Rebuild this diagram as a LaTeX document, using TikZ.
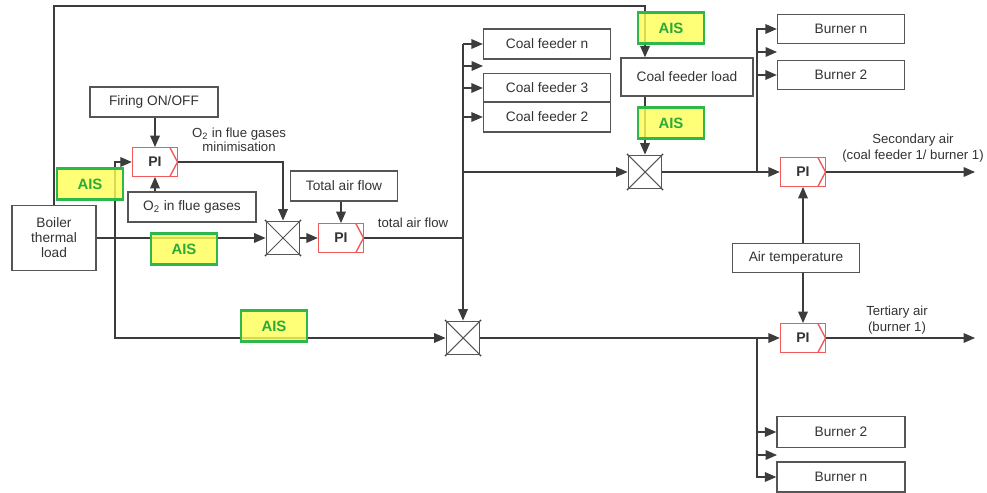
\documentclass[tikz,border=0pt]{standalone}
\usepackage{fontspec}
\setmainfont{Liberation Sans}
\usetikzlibrary{arrows.meta}
\definecolor{linegray}{HTML}{3C3C3C}
\definecolor{boxgray}{HTML}{555555}
\definecolor{txtgray}{HTML}{333333}
\definecolor{pired}{HTML}{F05A5A}
\definecolor{aisfill}{HTML}{FFFF55}
\definecolor{aisdraw}{HTML}{2DB84B}
\definecolor{aistext}{HTML}{2AAA3A}
\begin{document}
\begin{tikzpicture}[x=0.02cm,y=-0.02cm,>={Triangle[length=6.5pt,width=5.5pt]},
  line width=0.7pt,draw=linegray,font=\fontsize{7.8}{9.5}\selectfont,
  box/.style={draw=boxgray,line width=0.8pt,inner sep=0pt,text=txtgray},
  pibox/.style={draw=pired,line width=0.8pt,inner sep=0pt,text=txtgray,
    minimum width=0.9cm,minimum height=0.57cm,font=\fontsize{8}{9.5}\selectfont\bfseries,
    path picture={\draw[pired,line width=0.8pt]
      ([xshift=-0.15cm]path picture bounding box.north east) --
      (path picture bounding box.east) --
      ([xshift=-0.15cm]path picture bounding box.south east);}},
  mult/.style={draw=boxgray,line width=0.8pt,minimum size=0.67cm,inner sep=0pt,
    path picture={\draw[boxgray,line width=0.6pt]
      (path picture bounding box.north west) -- (path picture bounding box.south east)
      (path picture bounding box.north east) -- (path picture bounding box.south west);}},
  ais/.style={draw=aisdraw,fill=aisfill,fill opacity=0.8,text opacity=1,line width=1.2pt,
    text=aistext,minimum width=1.32cm,minimum height=0.62cm,inner sep=0pt,
    font=\fontsize{8.5}{10}\selectfont\bfseries},
  lbl/.style={text=txtgray,align=center,inner sep=0pt,font=\fontsize{7.5}{9.5}\selectfont}]
  \useasboundingbox (0,0) rectangle (987,493);

  % left part
  \node[box,minimum width=1.68cm,minimum height=1.3cm,align=center,
    font=\fontsize{7.8}{8.5}\selectfont] (boiler) at (54,238) {Boiler\\thermal\\load};
  \node[box,minimum width=2.56cm,minimum height=0.6cm] (firing) at (154,102) {Firing ON/OFF};
  \node[pibox] (pi1) at (155,162) {PI};
  \node[box,minimum width=2.56cm,minimum height=0.6cm] (o2) at (192,207) {O\textsubscript{2} in flue gases};
  \node[mult] (mult1) at (283,238) {};
  \node[box,minimum width=2.14cm,minimum height=0.6cm] (totalair) at (344,186) {Total air flow};
  \node[pibox] (pi2) at (341,238) {PI};
  \node[mult] (mult3) at (463,338) {};

  % coal feeders
  \node[box,minimum width=2.54cm,minimum height=0.6cm] (cfn) at (547,44) {Coal feeder n};
  \node[box,minimum width=2.54cm,minimum height=0.59cm] (cf3) at (547,88) {Coal feeder 3};
  \node[box,minimum width=2.54cm,minimum height=0.6cm] (cf2) at (547,117) {Coal feeder 2};
  \node[box,minimum width=2.64cm,minimum height=0.76cm] (cfload) at (687,77) {Coal feeder load};
  \node[mult] (mult2) at (645,172) {};

  % right part
  \node[box,minimum width=2.54cm,minimum height=0.58cm] (burntop) at (841,29) {Burner n};
  \node[box,minimum width=2.54cm,minimum height=0.58cm] (bur2top) at (841,75) {Burner 2};
  \node[pibox] (pi3) at (803,172) {PI};
  \node[box,minimum width=2.54cm,minimum height=0.58cm] (airtemp) at (796,258) {Air temperature};
  \node[pibox] (pi4) at (803,338) {PI};
  \node[box,minimum width=2.56cm,minimum height=0.62cm] (bur2bot) at (841,432) {Burner 2};
  \node[box,minimum width=2.56cm,minimum height=0.6cm] (burnbot) at (841,477) {Burner n};

  \coordinate (split) at (115,238);
  \coordinate (topright) at (645,6);
  \coordinate (bustop) at (463,44);
  \coordinate (cfspare) at (483,66);
  \coordinate (secsplit) at (757,172);
  \coordinate (bnspare) at (777,52);
  \coordinate (tersplit) at (757,338);
  \coordinate (btspare) at (777,455);
  \coordinate (secout) at (975,172);
  \coordinate (terout) at (975,338);

  % signal lines
  \draw[->] (boiler.east) -- (mult1.west);
  \draw[->] (split) |- (pi1.west);
  \draw[->] (split) |- (mult3.west);
  \draw[->] (boiler.north) |- (topright) -- (cfload.north -| topright);
  \draw[->] (firing.south -| pi1) -- (pi1.north);
  \draw[->] (o2.north -| pi1) -- (pi1.south);
  \draw[->] (pi1.east) -| (mult1.north);
  \draw[->] (mult1.east) -- (pi2.west);
  \draw[->] (totalair.south -| pi2) -- (pi2.north);
  \draw (pi2.east) -- (pi2.east -| bustop);
  \draw[->] (bustop) -- (mult3.north);
  \draw[->] (bustop) -- (cfn.west);
  \draw[->] (cfspare -| bustop) -- (cfspare);
  \draw[->] (cf3.west -| bustop) -- (cf3.west);
  \draw[->] (cf2.west -| bustop) -- (cf2.west);
  \draw[->] (cfload.south -| mult2) -- (mult2.north);
  \draw[->] (mult2.west -| bustop) -- (mult2.west);
  \draw[->] (mult2.east) -- (pi3.west);
  \draw[->] (secsplit) |- (burntop.west);
  \draw[->] (bnspare -| secsplit) -- (bnspare);
  \draw[->] (bur2top.west -| secsplit) -- (bur2top.west);
  \draw[->] (pi3.east) -- (secout);
  \draw[->] (airtemp.north -| pi3) -- (pi3.south);
  \draw[->] (airtemp.south -| pi3) -- (pi4.north);
  \draw[->] (mult3.east) -- (pi4.west);
  \draw[->] (tersplit) |- (burnbot.west);
  \draw[->] (btspare -| tersplit) -- (btspare);
  \draw[->] (bur2bot.west -| tersplit) -- (bur2bot.west);
  \draw[->] (pi4.east) -- (terout);

  % corner dots of the multipliers
  \foreach \m in {mult1,mult2,mult3}
    \foreach \c in {north west,north east,south west,south east}
      \fill[linegray] (\m.\c) circle (0.6pt);

  % AIS marks
  \node[ais] (ais1) at (90,184) {AIS};
  \node[ais] (ais2) at (184,249) {AIS};
  \node[ais] (ais3) at (274,326) {AIS};
  \node[ais] (ais4) at (671,28) {AIS};
  \node[ais] (ais5) at (671,123) {AIS};

  % labels
  \node[lbl,font=\fontsize{7.5}{8}\selectfont] (o2min) at (239,140) {O\textsubscript{2} in flue gases\\minimisation};
  \node[lbl] (totlbl) at (413,223) {total air flow};
  \node[lbl] (seclbl) at (913,148) {Secondary air\\(coal feeder 1/ burner 1)};
  \node[lbl] (terlbl) at (897,320) {Tertiary air\\(burner 1)};
\end{tikzpicture}
\end{document}
